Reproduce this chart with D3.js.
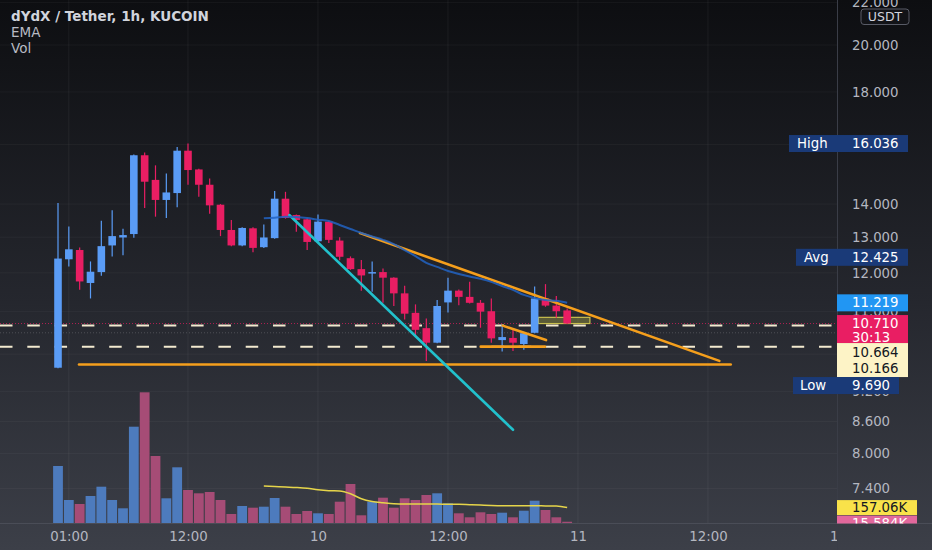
<!DOCTYPE html>
<html><head><meta charset="utf-8">
<script src="https://cdn.jsdelivr.net/npm/d3@7"></script>
<style>html,body{margin:0;padding:0;background:#1a1b20;overflow:hidden}svg{display:block}</style>
</head><body>
<svg id="c" width="932" height="550"></svg>
<script>
// ---- data (1h candles, dYdX/USDT, from 9th 00:00) ----
const hours = [0,1,2,3,4,5,6,7,8,9,10,11,12,13,14,15,16,17,18,19,20,21,22,23,24,25,26,27,28,29,30,31,32,33,34,35,36,37,38,39,40,41,42,43,44,45,46,47];
const open  = [9.70,12.37,12.63,11.73,12.02,12.76,12.99,13.09,15.62,14.78,14.13,14.35,15.78,15.13,14.62,13.98,13.21,12.76,13.26,12.71,12.97,14.17,13.66,13.53,12.88,13.46,12.90,12.40,12.10,11.98,12.02,11.87,11.46,10.97,10.60,10.26,11.23,11.53,11.37,11.22,11.01,10.32,10.37,10.23,10.49,11.33,11.15,11.03];
const high  = [14.03,13.31,12.70,12.31,13.49,13.81,13.25,15.65,15.72,15.27,14.99,15.91,16.036,15.15,14.83,14.00,13.51,13.29,13.29,13.37,14.42,14.39,13.68,13.56,13.68,13.49,13.00,12.45,12.35,12.31,12.12,11.88,11.66,11.18,10.83,11.29,11.87,11.56,11.76,11.29,11.33,10.68,10.60,10.48,11.64,11.70,11.39,11.08];
const low   = [9.69,12.17,11.55,11.33,11.92,12.45,12.48,12.98,13.88,13.61,13.57,13.90,14.62,14.23,13.70,13.03,12.74,12.74,12.57,12.69,12.95,13.55,13.16,12.63,12.86,12.83,12.34,12.08,11.53,11.50,11.22,11.14,10.81,10.40,9.85,10.25,10.98,11.16,11.20,10.61,10.26,10.06,10.07,10.10,10.48,11.12,10.85,10.70];
const close = [12.39,12.65,11.77,12.03,12.74,13.03,13.06,15.62,14.72,14.13,14.37,15.78,15.11,14.62,13.96,13.21,12.76,13.27,12.69,12.99,14.17,13.57,13.51,12.86,13.46,12.92,12.44,12.10,11.93,12.02,11.87,11.46,10.95,10.56,10.26,11.14,11.53,11.37,11.22,11.00,10.36,10.39,10.26,10.48,11.33,11.15,11.01,10.71];
const volume = [573,233,193,273,366,233,150,966,1310,673,250,560,333,300,313,233,93,173,156,166,253,166,93,123,100,93,216,393,80,216,256,156,250,233,283,300,200,100,60,110,93,106,60,126,226,133,60,15.584]; // K
const emaHours = [19,20,21,22,23,24,25,26,27,28,29,30,31,32,33,34,35,36,37,38,39,40,41,42,43,44,45,46,47];
const emaVals  = [13.56,13.58,13.61,13.60,13.57,13.52,13.48,13.36,13.24,13.12,13.02,12.92,12.80,12.63,12.46,12.27,12.16,12.05,11.97,11.90,11.84,11.76,11.65,11.55,11.42,11.34,11.29,11.27,11.219];
const volMaVals = [373,368,363,358,350,335,326,323,295,245,218,205,195,193,193,193,192,191,190,186,182,178,176,176,176,176,174,173,157.06]; // K
const timeTickHours  = [1,12,24,36,48,60,72];
const timeTickLabels = ["01:00","12:00","10","12:00","11","12:00","12"];
const priceTicks = [22,20,18,16,14,13,12,11,10,9.2,8.6,8,7.4];
const rangeAvg = [12.425];
const countdown = ["30:13"];
const hLines = [10.664,10.166];
const prevLine = [10.49];
// drawings: [hour, price]
const cyanLine = [[21.35,13.66],[42.0,8.44]];
const orangeTop = [[27.88,13.12],[61.05,9.85]];
const orangeFlat = [[1.94,9.77],[62.1,9.77]];
const orangeSmallDiag = [[41.05,10.66],[45.05,10.32]];
const orangeSmallFlat = [[39.02,10.17],[44.95,10.17]];
const yellowBox = [[44.34,10.86],[49.1,10.71]];

// ---- layout ----
const W=932,H=550,PR=837,PB=523.5;
const F="DejaVu Sans, sans-serif";
const x = d3.scaleLinear().domain([0,60]).range([58,58+60*10.833]);
const y = d3.scaleLog().domain([20,8]).range([45,45+Math.log(2.5)*446]);
const yv = d3.scaleLinear().domain([0,1000]).range([523.3,423.3]);

const svg = d3.select('#c');
const defs = svg.append('defs');
const gr = defs.append('linearGradient').attr('id','bg').attr('x1',0).attr('y1',0).attr('x2',0).attr('y2',1);
gr.append('stop').attr('offset','0%').attr('stop-color','#0d0e11');
gr.append('stop').attr('offset','55%').attr('stop-color','#25272e');
gr.append('stop').attr('offset','100%').attr('stop-color','#3c3f48');
svg.append('rect').attr('width',W).attr('height',H).attr('fill','url(#bg)');
defs.append('clipPath').attr('id','pane').append('rect').attr('width',PR).attr('height',PB);
defs.append('clipPath').attr('id','taxis').append('rect').attr('width',PR).attr('height',H);
defs.append('clipPath').attr('id','vaxis').append('rect').attr('x',PR).attr('width',W-PR).attr('height',PB);

const pane = svg.append('g').attr('clip-path','url(#pane)');
// grid
pane.selectAll('.vg').data(timeTickHours).join('line')
  .attr('x1',d=>x(d)).attr('x2',d=>x(d)).attr('y1',0).attr('y2',PB)
  .attr('stroke','rgba(255,255,255,0.055)');
pane.selectAll('.hg').data(priceTicks).join('line')
  .attr('x1',0).attr('x2',PR).attr('y1',d=>y(d)).attr('y2',d=>y(d))
  .attr('stroke','rgba(255,255,255,0.04)');

const up = i => close[i]>=open[i];
// volume
pane.append('g').selectAll('rect').data(hours).join('rect')
  .attr('x',i=>x(i)-4.9).attr('width',9.8)
  .attr('y',i=>yv(volume[i])).attr('height',i=>yv(0)-yv(volume[i]))
  .attr('fill',i=>up(i)?'#4d7bbd':'#a64c76');
pane.append('path').datum(emaHours)
  .attr('d',d3.line().x(i=>x(i)).y((i,k)=>yv(volMaVals[k])).curve(d3.curveMonotoneX))
  .attr('fill','none').attr('stroke','#e6d54a').attr('stroke-width',1.5);

// horizontal dashed / dotted lines
pane.selectAll('.hl').data(hLines).join('line')
  .attr('x1',0).attr('x2',PR).attr('y1',d=>y(d)).attr('y2',d=>y(d))
  .attr('stroke','#f3ead0').attr('stroke-width',2).attr('stroke-dasharray','12.5,14.8');
pane.append('line').attr('x1',0).attr('x2',PR).attr('y1',y(close[47])).attr('y2',y(close[47]))
  .attr('stroke','#e91e63').attr('stroke-opacity',0.7).attr('stroke-dasharray','1,2');
pane.append('line').attr('x1',0).attr('x2',PR).attr('y1',y(prevLine[0])).attr('y2',y(prevLine[0]))
  .attr('stroke','rgba(255,255,255,0.18)').attr('stroke-dasharray','1,2');

// drawings (under candles)
const seg = (pts,color,w) => pane.append('line')
  .attr('x1',x(pts[0][0])).attr('y1',y(pts[0][1])).attr('x2',x(pts[1][0])).attr('y2',y(pts[1][1]))
  .attr('stroke',color).attr('stroke-width',w).attr('stroke-linecap','round');
seg(orangeFlat,'#f59f1c',2.6);
pane.append('rect')
  .attr('x',x(yellowBox[0][0])).attr('y',y(yellowBox[0][1]))
  .attr('width',x(yellowBox[1][0])-x(yellowBox[0][0])).attr('height',y(yellowBox[1][1])-y(yellowBox[0][1]))
  .attr('fill','rgba(190,185,70,0.35)').attr('stroke','#c9bf4e').attr('stroke-width',1.2);

// candles
const cg = pane.append('g');
cg.selectAll('line').data(hours).join('line')
  .attr('x1',i=>x(i)).attr('x2',i=>x(i)).attr('y1',i=>y(high[i])).attr('y2',i=>y(low[i]))
  .attr('stroke',i=>up(i)?'#5a9cf6':'#e91e63').attr('stroke-width',1.2);
cg.selectAll('rect').data(hours).join('rect')
  .attr('x',i=>x(i)-3.8).attr('width',7.6)
  .attr('y',i=>y(Math.max(open[i],close[i])))
  .attr('height',i=>Math.max(1.2,Math.abs(y(open[i])-y(close[i]))))
  .attr('fill',i=>up(i)?'#5a9cf6':'#e91e63');

seg(orangeTop,'#f59f1c',2.6);
seg(orangeSmallDiag,'#f59f1c',2.6);
seg(orangeSmallFlat,'#f59f1c',2.6);
seg(cyanLine,'#22c1cc',2.6);
// EMA
pane.append('path').datum(emaHours)
  .attr('d',d3.line().x(i=>x(i)).y((i,k)=>y(emaVals[k])).curve(d3.curveMonotoneX))
  .attr('fill','none').attr('stroke','#2263c2').attr('stroke-width',2).attr('stroke-opacity',0.85);

// separators
svg.append('line').attr('x1',PR+0.5).attr('x2',PR+0.5).attr('y1',0).attr('y2',H).attr('stroke','#3a3d47');
svg.append('line').attr('x1',0).attr('x2',W).attr('y1',PB).attr('y2',PB).attr('stroke','#4a4d57');

// time axis
const ta = svg.append('g').attr('clip-path','url(#taxis)').append('g').attr('transform',`translate(0,${PB})`)
  .call(d3.axisBottom(x).tickValues(timeTickHours).tickFormat((d,i)=>timeTickLabels[i]).tickSize(0).tickPadding(8));
ta.select('.domain').remove();
ta.selectAll('text').attr('fill','#b4b7c0').attr('font-family',F).attr('font-size',13.3);

// price axis
const pa = svg.append('g').attr('clip-path','url(#vaxis)').append('g').attr('transform',`translate(${PR},0)`)
  .call(d3.axisRight(y).tickValues(priceTicks).tickFormat(d3.format('.3f')).tickSize(0).tickPadding(15));
pa.select('.domain').remove();
pa.selectAll('text').attr('fill','#b4b7c0').attr('font-family',F).attr('font-size',13.3);

// USDT box
svg.append('rect').attr('x',861).attr('y',9).attr('width',48).attr('height',15.5).attr('rx',3)
  .attr('fill','#121317').attr('stroke','#585b66');
svg.append('text').attr('x',885).attr('y',21).attr('text-anchor','middle').attr('fill','#d1d4dc')
  .attr('font-family',F).attr('font-size',12.5).text('USDT');

// label helper
function box(x0,x1,top,h,fill){svg.append('rect').attr('x',x0).attr('y',top).attr('width',x1-x0).attr('height',h).attr('fill',fill);}
function txt(xx,yy,s,fill,anchor){svg.append('text').attr('x',xx).attr('y',yy).attr('dy','0.35em')
  .attr('text-anchor',anchor||'start').attr('fill',fill).attr('font-family',F).attr('font-size',13.3).text(s);}
const fmt = d3.format('.3f');
const hiVal = d3.max(high), loVal = d3.min(low);

// High / Avg
box(789,908,y(hiVal)-8.5,17,'#1a3a78'); txt(797,y(hiVal),'High','#fff'); txt(852,y(hiVal),fmt(hiVal),'#fff');
box(796,908,y(rangeAvg[0])-8.5,17,'#1a3a78'); txt(804,y(rangeAvg[0]),'Avg','#fff'); txt(852,y(rangeAvg[0]),fmt(rangeAvg[0]),'#fff');

// stacked price labels with collision resolution
const stack = [
  {v:emaVals[emaVals.length-1], h:17, kind:'ema'},
  {v:close[47], h:28, kind:'close'},
  {v:hLines[0], h:34, kind:'hl'},
  {v:loVal, h:17, kind:'low'}
];
let bottom = -1e9;
stack.forEach(s=>{ s.top = Math.max(y(s.v)-8.5, bottom); bottom = s.top + s.h; });
stack.forEach(s=>{
  if(s.kind==='ema'){ box(PR,908,s.top,s.h,'#2196f3'); txt(852,s.top+8.5,fmt(s.v),'#fff'); }
  if(s.kind==='close'){ box(PR,908,s.top,s.h,'#e91e63'); txt(852,s.top+8.5,fmt(s.v),'#fff'); txt(852,s.top+22,countdown[0],'#fff'); }
  if(s.kind==='hl'){ box(PR,908,s.top,s.h,'#fdf3c6'); txt(852,s.top+9.5,fmt(hLines[0]),'#131722'); txt(852,s.top+25.5,fmt(hLines[1]),'#131722'); }
  if(s.kind==='low'){ box(793,899,s.top,s.h,'#1a3a78'); txt(800,s.top+8.5,'Low','#fff'); txt(852,s.top+8.5,fmt(s.v),'#fff'); }
});

// volume labels
const vmaTop = yv(volMaVals[volMaVals.length-1])-7.5;
box(PR,917,vmaTop,15,'#f9e24a'); txt(852,vmaTop+7.5,d3.format('.2f')(volMaVals[volMaVals.length-1])+'K','#131722');
const vg = svg.append('g').attr('clip-path','url(#vaxis)');
const vTop = Math.max(yv(volume[47])-7.5, vmaTop+15.5);
vg.append('rect').attr('x',PR).attr('y',vTop).attr('width',80).attr('height',15).attr('fill','#e2689c');
vg.append('text').attr('x',852).attr('y',vTop+7.5).attr('dy','0.35em').attr('fill','#fff').attr('font-family',F).attr('font-size',13.3).text(d3.format('.3f')(volume[47])+'K');

// legend
const lg = svg.append('g').attr('font-family',F);
lg.append('text').attr('x',11).attr('y',20.5).attr('fill','#d1d4dc').attr('font-size',13.5).attr('font-weight','bold').text('dYdX / Tether, 1h, KUCOIN');
lg.append('text').attr('x',11).attr('y',37).attr('fill','#b8bbc4').attr('font-size',13.5).text('EMA');
lg.append('text').attr('x',11).attr('y',53).attr('fill','#b8bbc4').attr('font-size',13.5).text('Vol');
</script>
</body></html>
